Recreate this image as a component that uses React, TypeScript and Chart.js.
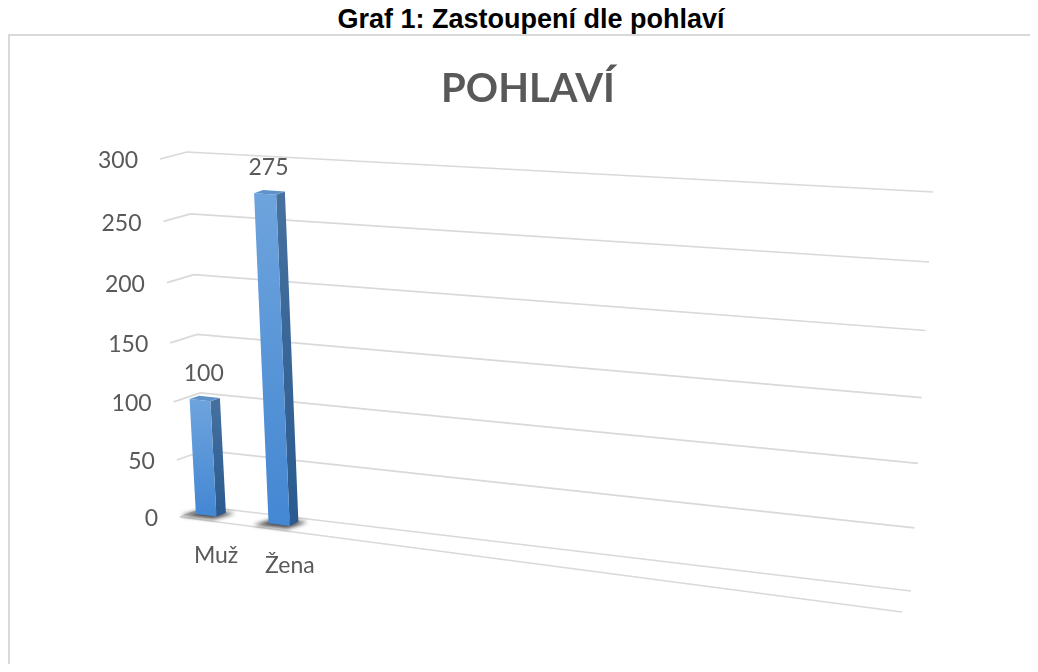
import React, { useEffect, useRef } from "react";
import { Chart, registerables } from "chart.js";

Chart.register(...registerables);

// ---------- data ----------
const CAPTION = "Graf 1: Zastoupení dle pohlaví";
const CHART_TITLE = "POHLAVÍ";
const CATEGORIES = ["Muž", "Žena"];
const VALUES = [100, 275];
const Y_TICKS = [0, 50, 100, 150, 200, 250, 300];
const Y_MAX = 300;
const SLOT_COUNT = 9; // category slots along the floor (only the first two are used)

// ---------- geometry (canvas px) ----------
const CW = 1030;
const CH = 656;
// back wall corners
const WALL_BL: [number, number] = [199, 499];
const WALL_BR: [number, number] = [903, 583];
const WALL_TR: [number, number] = [925, 184];
const WALL_TL: [number, number] = [179, 144];
// depth vector (back wall -> front edge) at the wall corners
const D_BL: [number, number] = [-27, 10];
const D_TL: [number, number] = [-27, 7];
const D_BR: [number, number] = [-9, 21];
const D_TR: [number, number] = [-9, 18];
// mapping of the flat category axis onto the floor
const S0 = -0.0315;
const SSPAN = 1.017;
// bar depth range
const BAR_BACK = 0.26;
const BAR_FRONT = 0.62;

const TEXT_COLOR = "#595959";
const GRID_COLOR = "#d9d9d9";
const FONT_FAMILY = "Lato, 'Open Sans', sans-serif";

function homography(
  p0: [number, number],
  p1: [number, number],
  p2: [number, number],
  p3: [number, number]
) {
  const [x0, y0] = p0, [x1, y1] = p1, [x2, y2] = p2, [x3, y3] = p3;
  const dx1 = x1 - x2, dx2 = x3 - x2, sx = x0 - x1 + x2 - x3;
  const dy1 = y1 - y2, dy2 = y3 - y2, sy = y0 - y1 + y2 - y3;
  const den = dx1 * dy2 - dx2 * dy1;
  const g = (sx * dy2 - dx2 * sy) / den;
  const h = (dx1 * sy - sx * dy1) / den;
  const a = x1 - x0 + g * x1, b = x3 - x0 + h * x3, c = x0;
  const d = y1 - y0 + g * y1, e = y3 - y0 + h * y3, f = y0;
  return (u: number, v: number): [number, number] => {
    const z = g * u + h * v + 1;
    return [(a * u + b * v + c) / z, (d * u + e * v + f) / z];
  };
}

const H = homography(WALL_BL, WALL_BR, WALL_TR, WALL_TL);
const lerp = (a: number, b: number, k: number) => a + (b - a) * k;

function P(s: number, t: number, w: number): [number, number] {
  const [x, y] = H(s, t);
  const dx = lerp(lerp(D_BL[0], D_BR[0], s), lerp(D_TL[0], D_TR[0], s), t);
  const dy = lerp(lerp(D_BL[1], D_BR[1], s), lerp(D_TL[1], D_TR[1], s), t);
  return [x + w * dx, y + w * dy];
}

function poly(ctx: CanvasRenderingContext2D, pts: [number, number][]) {
  ctx.beginPath();
  pts.forEach((p, i) => (i === 0 ? ctx.moveTo(p[0], p[1]) : ctx.lineTo(p[0], p[1])));
  ctx.closePath();
}

const perspectivePlugin = {
  id: "perspective3d",
  afterDatasetsDraw(chart: any) {
    const ctx: CanvasRenderingContext2D = chart.ctx;
    const area = chart.chartArea;
    const xs = chart.scales.x;
    const ys = chart.scales.y;
    const sOf = (px: number) => S0 + (SSPAN * (px - area.left)) / area.width;
    const tOf = (py: number) => (area.bottom - py) / (area.bottom - area.top);
    const tickValues: number[] =
      ys.ticks && ys.ticks.length ? ys.ticks.map((tk: any) => tk.value) : Y_TICKS;

    ctx.save();
    // walls: side wall + back wall gridlines
    ctx.strokeStyle = GRID_COLOR;
    ctx.lineWidth = 1.7;
    ctx.lineJoin = "round";
    tickValues.forEach((v) => {
      const t = tOf(ys.getPixelForValue(v));
      const a = P(0, t, 1), b = P(0, t, 0), c = P(1, t, 0);
      ctx.beginPath();
      ctx.moveTo(a[0], a[1]);
      ctx.lineTo(b[0], b[1]);
      ctx.lineTo(c[0], c[1]);
      ctx.stroke();
    });
    // floor front edge
    const f0 = P(0, 0, 1), f1 = P(1, 0, 1);
    ctx.beginPath();
    ctx.moveTo(f0[0], f0[1]);
    ctx.lineTo(f1[0], f1[1]);
    ctx.stroke();

    // y tick labels
    ctx.font = `23px ${FONT_FAMILY}`;
    ctx.fillStyle = TEXT_COLOR;
    ctx.textAlign = "right";
    ctx.textBaseline = "middle";
    tickValues.forEach((v) => {
      const t = tOf(ys.getPixelForValue(v));
      const p = P(0, t, 1);
      ctx.fillText(String(v), p[0] - 22, p[1] + 2);
    });

    // bars
    const meta = chart.getDatasetMeta(0);
    const data = chart.data.datasets[0].data as number[];
    meta.data.forEach((el: any, i: number) => {
      const { x, y, base, width } = el.getProps(["x", "y", "base", "width"], true);
      const sL = sOf(x - width / 2);
      const sR = sOf(x + width / 2);
      const tT = tOf(y);
      const tB = tOf(base);
      const wF = BAR_FRONT, wB = BAR_BACK;

      // soft shadow on the floor
      ctx.save();
      ctx.filter = "blur(2px)";
      ctx.fillStyle = "rgba(35,35,35,0.85)";
      poly(ctx, [
        P(sL - 0.013, tB, wF + 0.26),
        P(sR + 0.004, tB, wF + 0.2),
        P(sR + 0.012, tB, wB - 0.05),
        P(sL - 0.004, tB, wB - 0.05),
      ]);
      ctx.fill();
      ctx.restore();

      const fBL = P(sL, tB, wF), fBR = P(sR, tB, wF);
      const fTL = P(sL, tT, wF), fTR = P(sR, tT, wF);
      const bBR = P(sR, tB, wB), bTR = P(sR, tT, wB), bTL = P(sL, tT, wB);

      // right side face
      const gs = ctx.createLinearGradient(0, bTR[1], 0, fBR[1]);
      gs.addColorStop(0, "#46719f");
      gs.addColorStop(1, "#2a5a8e");
      ctx.fillStyle = gs;
      poly(ctx, [fBR, bBR, bTR, fTR]);
      ctx.fill();

      // front face
      const gf = ctx.createLinearGradient(0, fTL[1], 0, fBL[1]);
      gf.addColorStop(0, "#6ea4dd");
      gf.addColorStop(1, "#4487d3");
      ctx.fillStyle = gf;
      poly(ctx, [fBL, fBR, fTR, fTL]);
      ctx.fill();

      // top face
      ctx.fillStyle = "#5e92cb";
      poly(ctx, [fTL, fTR, bTR, bTL]);
      ctx.fill();

      // data label
      const top = P((sL + sR) / 2, tT, (wF + wB) / 2);
      ctx.font = `23px ${FONT_FAMILY}`;
      ctx.fillStyle = TEXT_COLOR;
      ctx.textAlign = "center";
      ctx.textBaseline = "middle";
      ctx.fillText(String(data[i]), top[0] - 1, top[1] - 25);

      // category label
      const sc = sOf(xs.getPixelForValue(i));
      const lp = P(sc, 0, 1);
      ctx.textBaseline = "alphabetic";
      ctx.fillText(CATEGORIES[i], lp[0] + 20, lp[1] + 44);
    });
    ctx.restore();
  },
};

export default function App() {
  const canvasRef = useRef<HTMLCanvasElement | null>(null);

  useEffect(() => {
    const canvas = canvasRef.current;
    if (!canvas) return;
    const slotLabels = CATEGORIES.concat(
      Array.from({ length: SLOT_COUNT - CATEGORIES.length }, () => "")
    );
    const chart = new Chart(canvas, {
      type: "bar",
      data: {
        labels: slotLabels,
        datasets: [
          {
            label: CHART_TITLE,
            data: VALUES,
            backgroundColor: "rgba(0,0,0,0)",
            borderWidth: 0,
            categoryPercentage: 1,
            barPercentage: 0.285,
          },
        ],
      },
      options: {
        responsive: false,
        animation: false,
        devicePixelRatio: 1,
        layout: { padding: { left: 10, right: 0, top: 0, bottom: 150 } },
        plugins: {
          legend: { display: false },
          tooltip: { enabled: false },
          title: {
            display: true,
            text: CHART_TITLE,
            color: TEXT_COLOR,
            font: { family: FONT_FAMILY, size: 40, weight: "bold" },
            padding: { top: 57, bottom: 10 },
          },
        },
        scales: {
          x: { display: false, offset: true, grid: { display: false } },
          y: {
            display: false,
            min: 0,
            max: Y_MAX,
            afterBuildTicks: (scale: any) => {
              scale.ticks = Y_TICKS.map((v) => ({ value: v }));
            },
          },
        },
      },
      plugins: [perspectivePlugin],
    } as any);
    return () => chart.destroy();
  }, []);

  return (
    <div style={{ position: "relative", width: CW, height: CH, overflow: "hidden" }}>
      <div
        style={{
          position: "absolute",
          left: 0,
          top: -4,
          width: 1046,
          textAlign: "center",
          fontFamily: "'Liberation Sans', Arial, sans-serif",
          fontWeight: "bold",
          fontSize: 27,
          lineHeight: "30px",
          color: "#000",
          whiteSpace: "nowrap",
        }}
      >
        {CAPTION}
      </div>
      <div
        style={{
          position: "absolute",
          left: 0,
          top: 26,
          width: 1100,
          height: 700,
          border: `2px solid ${GRID_COLOR}`,
          boxSizing: "border-box",
        }}
      />
      <canvas
        ref={canvasRef}
        width={CW}
        height={CH}
        style={{ position: "absolute", left: 0, top: 0, width: CW, height: CH }}
      />
    </div>
  );
}
